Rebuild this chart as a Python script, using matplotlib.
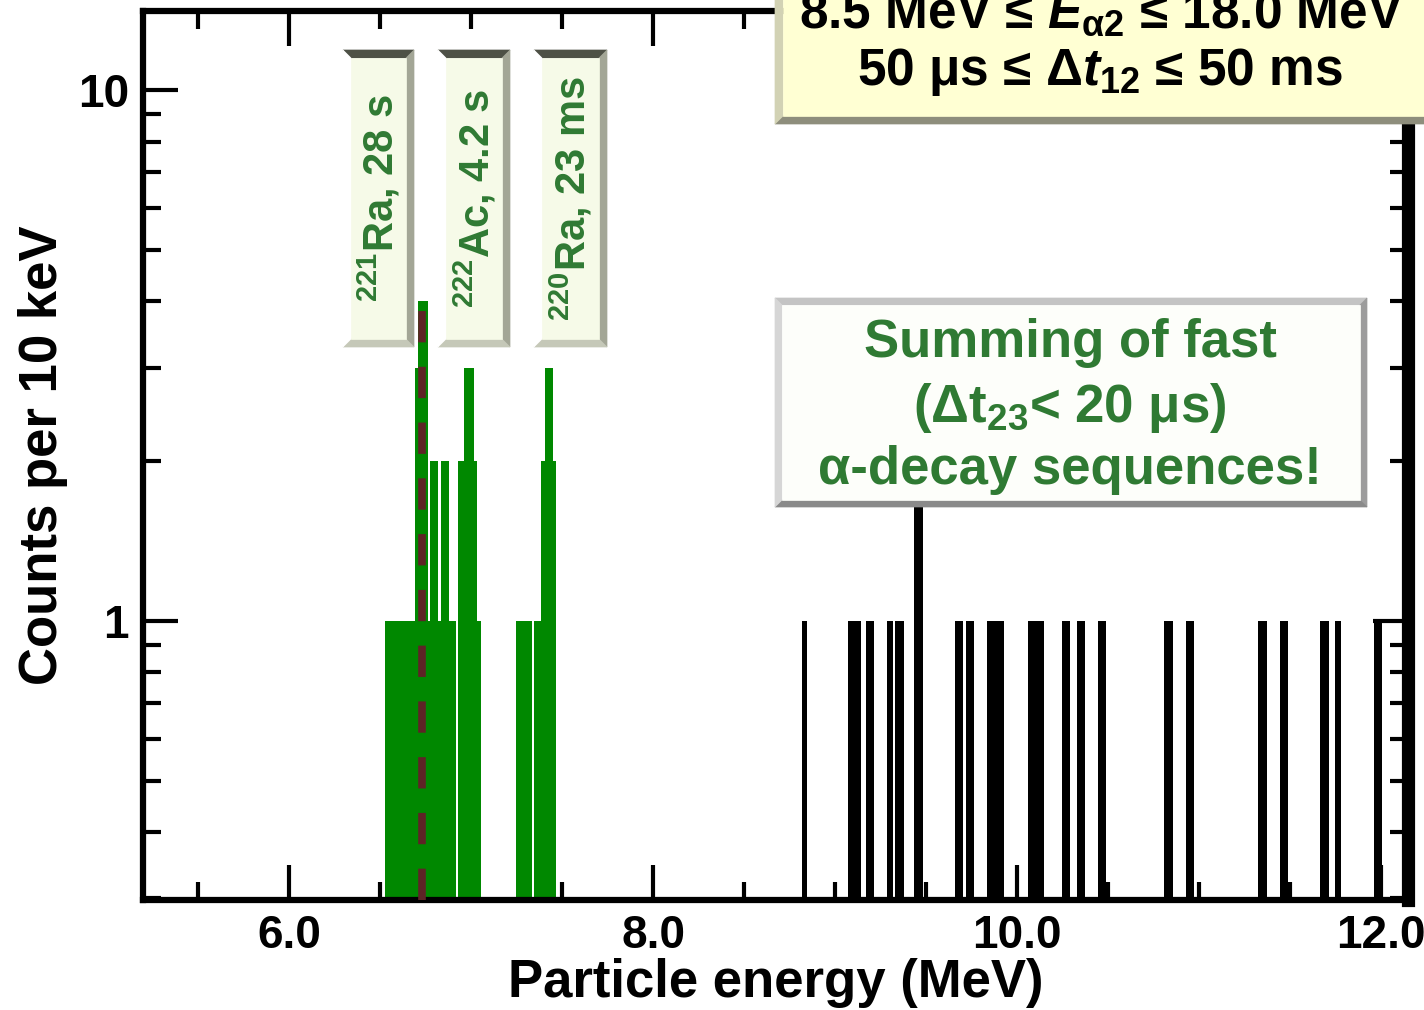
import matplotlib
matplotlib.use('Agg')
import matplotlib.pyplot as plt
from matplotlib.patches import Polygon
from matplotlib.ticker import FixedLocator, MultipleLocator, NullFormatter, FixedFormatter
import numpy as np

plt.rcParams['font.family'] = ['Liberation Sans', 'DejaVu Sans']
plt.rcParams['font.weight'] = 'bold'
plt.rcParams['mathtext.fontset'] = 'custom'
plt.rcParams['mathtext.rm'] = 'Liberation Sans:bold'
plt.rcParams['mathtext.it'] = 'Liberation Sans:bold:italic'
plt.rcParams['mathtext.bf'] = 'Liberation Sans:bold'
plt.rcParams['mathtext.sf'] = 'Liberation Sans:bold'

# ---------------- data (energies in MeV, counts per 10 keV) ----------------
green_lo = [6.527, 6.692, 6.711, 6.762, 6.775, 6.821, 6.835, 6.879, 6.930, 6.963,
            7.018, 7.031, 7.245, 7.348, 7.385, 7.407, 7.452]
green_hi = [6.692, 6.711, 6.762, 6.775, 6.821, 6.835, 6.879, 6.916, 6.963, 7.018,
            7.031, 7.055, 7.337, 7.385, 7.407, 7.452, 7.467]
green_counts = [1, 3, 4, 1, 2, 1, 2, 1, 2, 3, 2, 1, 1, 1, 2, 3, 2]

black_lo = [8.817, 9.073, 9.169, 9.284, 9.331, 9.436, 9.659, 9.718, 9.835, 10.059,
            10.247, 10.328, 10.447, 10.808, 10.927, 11.326, 11.443, 11.665, 11.745, 11.960]
black_hi = [8.848, 9.143, 9.213, 9.317, 9.377, 9.485, 9.705, 9.764, 9.927, 10.150,
            10.293, 10.372, 10.491, 10.855, 10.973, 11.372, 11.489, 11.713, 11.780, 12.004]
black_counts = [1, 1, 1, 1, 1, 2, 1, 1, 1, 1, 1, 1, 1, 1, 1, 1, 1, 1, 1, 1]

ra221_energy = 6.729
ra221_top = 4

xticks = [6.0, 8.0, 10.0, 12.0]
xticklabels = ['6.0', '8.0', '10.0', '12.0']
yticks = [1, 10]
yticklabels = ['1', '10']

label_texts = [r'$^{221}$Ra, 28 s', r'$^{222}$Ac, 4.2 s', r'$^{220}$Ra, 23 ms']

# ---------------- figure ----------------
W, H = 1424, 1010
fig = plt.figure(figsize=(W / 100, H / 100), dpi=100)
ax = fig.add_axes([143 / W, 1 - 900 / H, (1408 - 143) / W, (900 - 11) / H])

ax.set_yscale('log')
ax.set_xlim(5.198, 12.148)
ax.set_ylim(0.298, 14.1)

gw = np.subtract(green_hi, green_lo)
ax.bar(green_lo, green_counts, width=gw, align='edge', color='#008800',
       linewidth=0, zorder=2)
bw = np.subtract(black_hi, black_lo)
ax.bar(black_lo, black_counts, width=bw, align='edge', color='black',
       linewidth=0, zorder=2)

ax.plot([ra221_energy, ra221_energy], [0.298, ra221_top], color='#5E2326',
        linewidth=5.5, dashes=(4.1, 3.2), solid_capstyle='butt',
        dash_capstyle='butt', zorder=3)

ax.xaxis.set_major_locator(FixedLocator(xticks))
ax.xaxis.set_major_formatter(FixedFormatter(xticklabels))
ax.xaxis.set_minor_locator(MultipleLocator(0.5))
ax.yaxis.set_major_locator(FixedLocator(yticks))
ax.yaxis.set_major_formatter(FixedFormatter(yticklabels))
ax.yaxis.set_minor_locator(FixedLocator([0.3, 0.4, 0.5, 0.6, 0.7, 0.8, 0.9,
                                         2, 3, 4, 5, 6, 7, 8, 9]))
ax.yaxis.set_minor_formatter(NullFormatter())

ax.tick_params(which='both', direction='in', top=True, right=True, width=3,
               labelsize=33)
ax.tick_params(which='major', length=25)
ax.tick_params(which='minor', length=13)
ax.tick_params(axis='x', pad=10)
ax.tick_params(axis='y', pad=10)

for s in ['left', 'bottom', 'top']:
    ax.spines[s].set_linewidth(4.5)
ax.spines['right'].set_linewidth(9.5)

ax.set_xlabel('Particle energy (MeV)', fontsize=38, fontweight='bold', labelpad=0)
ax.set_ylabel('Counts per 10 keV', fontsize=38, fontweight='bold', labelpad=7)


# ---------------- bevelled boxes (pixel coordinates, y down) ----------------
def P(x, y):
    return (x / W, 1 - y / H)


def bevel_box(x0, y0, x1, y1, b, fill, top, left, bottom, right, z=5):
    o = [(x0, y0), (x1, y0), (x1, y1), (x0, y1)]
    i = [(x0 + b, y0 + b), (x1 - b, y0 + b), (x1 - b, y1 - b), (x0 + b, y1 - b)]
    parts = [([o[0], o[1], i[1], i[0]], top),
             ([o[1], o[2], i[2], i[1]], right),
             ([o[2], o[3], i[3], i[2]], bottom),
             ([o[3], o[0], i[0], i[3]], left),
             (i, fill)]
    for pts, c in parts:
        fig.add_artist(Polygon([P(*p) for p in pts], closed=True,
                               transform=fig.transFigure, facecolor=c,
                               edgecolor=c, linewidth=0.5, zorder=z))


# isotope labels
label_boxes = [(343, 50, 414, 347), (438, 50, 510, 347), (534, 50, 607, 347)]
for (x0, y0, x1, y1), t in zip(label_boxes, label_texts):
    bevel_box(x0, y0, x1, y1, 8, '#F6FAE8', '#4E5146', '#FFFFFF', '#C5C8B8',
              '#A3A696')
    cx, cy = P((x0 + x1) / 2 + 1, (y0 + y1) / 2)
    fig.text(cx, cy, t, rotation=90, ha='center', va='center', fontsize=30,
             fontweight='bold', color='#2F7A33', zorder=6)

# summing box
bevel_box(775, 298, 1367, 507, 7, '#FDFEFA', '#C4C4C4', '#D6D6D6', '#8A8A8A',
          '#9C9C9C')
sum_lines = ['Summing of fast', r'($\Delta$t$_{23}$< 20 μs)', 'α-decay sequences!']
for yy, t in zip([343, 408, 470], sum_lines):
    fig.text(*P(1070, yy), t, ha='center', va='center', fontsize=38,
             fontweight='bold', color='#2F7A33', zorder=6)

# condition box (top right, cut off by the figure edge)
bevel_box(775, -20, 1440, 124, 8, '#FFFFD3', '#E0E0C0', '#D2D2B4', '#8E8E7C',
          '#A0A090')
fig.text(*P(1101, 14), r'8.5 MeV ≤ $E_{\mathrm{\alpha 2}}$ ≤ 18.0 MeV', ha='center',
         va='center', fontsize=37, fontweight='bold', color='black', zorder=6)
fig.text(*P(1100, 72), r'50 μs ≤ $\Delta t_{12}$ ≤ 50 ms', ha='center',
         va='center', fontsize=37, fontweight='bold', color='black', zorder=6)

fig.savefig('out.png', dpi=100)
